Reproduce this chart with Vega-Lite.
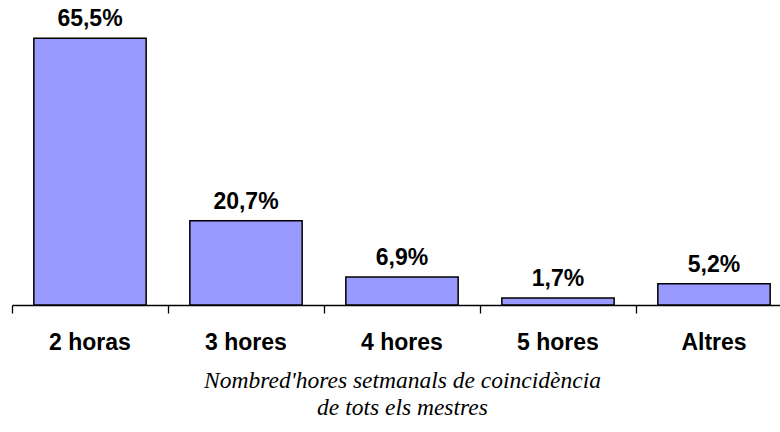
{
  "$schema": "https://vega.github.io/schema/vega-lite/v6.json",
  "width": 780,
  "height": 285,
  "autosize": {"type": "none"},
  "padding": {"left": 12, "top": 20, "right": -12, "bottom": 127},
  "background": "white",
  "data": {"values": [
    {"cat": "2 horas", "pct": 65.5, "label": "65,5%"},
    {"cat": "3 hores", "pct": 20.7, "label": "20,7%"},
    {"cat": "4 hores", "pct": 6.9, "label": "6,9%"},
    {"cat": "5 hores", "pct": 1.7, "label": "1,7%"},
    {"cat": "Altres", "pct": 5.2, "label": "5,2%"}
  ]},
  "config": {"view": {"stroke": null}},
  "encoding": {
    "x": {
      "field": "cat", "type": "nominal", "sort": null,
      "scale": {"paddingInner": 0, "paddingOuter": 0},
      "axis": {
        "title": ["Nombred'hores setmanals de coincidència", "de tots els mestres"],
        "titleFont": "Liberation Serif", "titleFontStyle": "italic", "titleFontWeight": "normal",
        "titleFontSize": 23.5, "titleColor": "black", "titleLineHeight": 27.5, "titlePadding": 14,
        "labelAngle": 0, "labelFont": "Liberation Sans", "labelFontWeight": "bold",
        "labelFontSize": 23, "labelColor": "black", "labelPadding": 18,
        "bandPosition": 0, "tickSize": 8, "tickColor": "black", "domainColor": "black",
        "tickWidth": 1.3, "domainWidth": 1.3, "grid": false
      }
    },
    "y": {
      "field": "pct", "type": "quantitative",
      "scale": {"domain": [0, 70], "nice": false},
      "axis": null
    }
  },
  "layer": [
    {
      "mark": {"type": "bar", "width": {"band": 0.72}, "fill": "#9999FF", "stroke": "black", "strokeWidth": 1.5}
    },
    {
      "mark": {"type": "text", "baseline": "middle", "dy": -19, "font": "Liberation Sans", "fontWeight": "bold", "fontSize": 23, "color": "black"},
      "encoding": {"text": {"field": "label"}}
    }
  ]
}
